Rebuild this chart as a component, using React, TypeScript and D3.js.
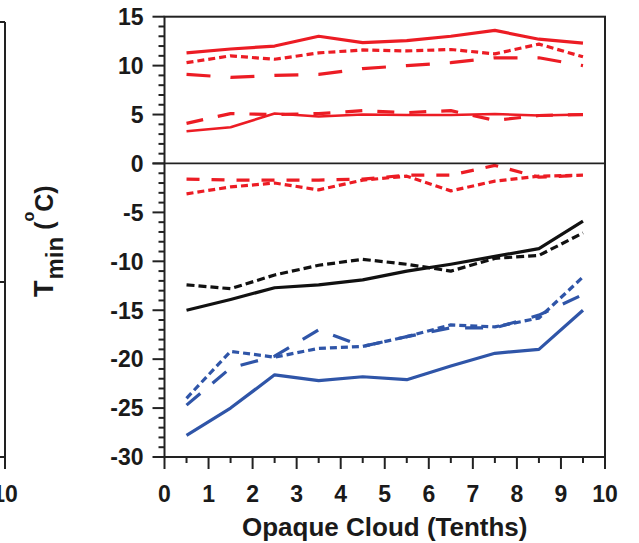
import React from "react";
import * as d3 from "d3";

const cloud = [0.5, 1.5, 2.5, 3.5, 4.5, 5.5, 6.5, 7.5, 8.5, 9.5];

const redSolidHigh = [11.3, 11.7, 12.0, 13.0, 12.35, 12.55, 13.0, 13.6, 12.7, 12.3];
const redShortHigh = [10.3, 11.0, 10.65, 11.3, 11.6, 11.5, 11.65, 11.2, 12.2, 10.9];
const redLongHigh = [9.1, 8.8, 9.0, 9.1, 9.7, 10.0, 10.3, 10.8, 10.8, 10.0];
const redDashMid = [4.1, 5.1, 5.0, 5.1, 5.4, 5.2, 5.4, 4.4, 4.9, 5.0];
const redSolidMid = [3.3, 3.7, 5.1, 4.8, 5.0, 4.95, 4.95, 5.05, 4.9, 5.0];
const redLongLow = [-1.6, -1.7, -1.7, -1.7, -1.6, -1.2, -1.2, -0.2, -1.4, -1.2];
const redShortLow = [-3.1, -2.4, -2.0, -2.7, -1.7, -1.3, -2.8, -1.8, -1.3, -1.2];
const blackSolid = [-15.0, -13.9, -12.7, -12.4, -11.9, -11.0, -10.3, -9.5, -8.7, -5.9];
const blackShort = [-12.4, -12.8, -11.4, -10.4, -9.8, -10.3, -11.0, -9.7, -9.4, -7.1];
const blueSolid = [-27.8, -25.0, -21.6, -22.2, -21.8, -22.1, -20.7, -19.4, -19.0, -15.0];
const blueShort = [-24.0, -19.2, -19.8, -18.9, -18.7, -17.7, -16.5, -16.7, -15.8, -11.6];
const blueLong = [-24.7, -20.9, -19.7, -17.0, -18.7, -17.7, -16.8, -16.8, -15.5, -13.4];

const xTickValues = [0, 1, 2, 3, 4, 5, 6, 7, 8, 9, 10];
const yTickValues = [15, 10, 5, 0, -5, -10, -15, -20, -25, -30];
const xTitle = "Opaque Cloud (Tenths)";

const RED = "#ec1c24";
const BLUE = "#2f55a8";
const BLACK = "#111111";

const series = [
  { values: redSolidHigh, color: RED, dash: null, w: 3.2 },
  { values: redShortHigh, color: RED, dash: "7 4", w: 3.2 },
  { values: redLongHigh, color: RED, dash: "24 20", w: 3.2 },
  { values: redDashMid, color: RED, dash: "17 15", w: 3.2 },
  { values: redSolidMid, color: RED, dash: null, w: 2.6 },
  { values: redLongLow, color: RED, dash: "13 12", w: 3.2 },
  { values: redShortLow, color: RED, dash: "7 4", w: 3.2 },
  { values: blackSolid, color: BLACK, dash: null, w: 3.2 },
  { values: blackShort, color: BLACK, dash: "8 4", w: 3.2 },
  { values: blueSolid, color: BLUE, dash: null, w: 3.2 },
  { values: blueShort, color: BLUE, dash: "7 4", w: 3.2 },
  { values: blueLong, color: BLUE, dash: "18 16", w: 3.2 },
];

const FONT = "'Liberation Sans', Arial, Helvetica, sans-serif";

export default function App() {
  const W = 639;
  const H = 543;
  const left = 164.5;
  const right = 605;
  const top = 16.7;
  const bottom = 457;
  const x = d3.scaleLinear().domain([0, 10]).range([left, right]);
  const y = d3.scaleLinear().domain([-30, 15]).range([bottom, top]);
  const line = d3
    .line<number>()
    .x((_, i) => x(cloud[i]))
    .y((d) => y(d));

  const minorY = d3.range(-30, 16, 1).filter((v) => v % 5 !== 0);
  const minorX = d3.range(0.5, 10, 1);

  return (
    <div style={{ position: "absolute", left: 0, top: 0 }}>
      <svg width={W} height={H} style={{ display: "block", background: "#fff" }}>
        {/* partial left panel */}
        <g stroke="#222" strokeWidth={2} fill="none">
          <line x1={0} x2={5} y1={22} y2={22} />
          <line x1={5} x2={5} y1={22} y2={bottom} />
          <line x1={0} x2={5} y1={282} y2={282} />
          <line x1={0} x2={5} y1={bottom} y2={bottom} />
          <line x1={5} x2={5} y1={bottom} y2={bottom + 12} />
        </g>
        <text x={5} y={502} fontFamily={FONT} fontWeight="bold" fontSize={23} textAnchor="middle" fill="#1a1a1a">
          10
        </text>

        {/* lines */}
        <g fill="none" strokeLinejoin="round">
          {series.map((s, i) => (
            <path
              key={i}
              d={line(s.values) || ""}
              stroke={s.color}
              strokeWidth={s.w}
              strokeDasharray={s.dash || undefined}
            />
          ))}
        </g>

        {/* frame */}
        <g stroke="#222" fill="none">
          <rect x={left} y={top} width={right - left} height={bottom - top} strokeWidth={2} />
          <line x1={left - 12} x2={right} y1={y(0)} y2={y(0)} strokeWidth={1.8} />
          {yTickValues.map((v) => (
            <line key={"ym" + v} x1={left - 12} x2={left} y1={y(v)} y2={y(v)} strokeWidth={2} />
          ))}
          {minorY.map((v) => (
            <line key={"yn" + v} x1={left - 6} x2={left} y1={y(v)} y2={y(v)} strokeWidth={2} />
          ))}
          {xTickValues.map((v) => (
            <line key={"xm" + v} x1={x(v)} x2={x(v)} y1={bottom} y2={bottom + 12} strokeWidth={2} />
          ))}
          {minorX.map((v) => (
            <line key={"xn" + v} x1={x(v)} x2={x(v)} y1={bottom} y2={bottom + 6} strokeWidth={2} />
          ))}
        </g>

        {/* tick labels */}
        <g fontFamily={FONT} fontWeight="bold" fontSize={23} fill="#1a1a1a">
          {yTickValues.map((v) => (
            <text key={"yl" + v} x={left - 21} y={y(v)} dy="0.36em" textAnchor="end">
              {v}
            </text>
          ))}
          {xTickValues.map((v) => (
            <text key={"xl" + v} x={x(v)} y={502} textAnchor="middle">
              {v}
            </text>
          ))}
        </g>

        <text
          x={(left + right) / 2}
          y={536}
          fontFamily={FONT}
          fontWeight="bold"
          fontSize={26}
          textAnchor="middle"
          fill="#1a1a1a"
        >
          {xTitle}
        </text>

        <text
          transform="translate(53,297) rotate(-90)"
          fontFamily={FONT}
          fontWeight="bold"
          fill="#1a1a1a"
        >
          <tspan fontSize={27}>T</tspan>
          <tspan fontSize={24} dy={10} dx={1}>min</tspan>
          <tspan fontSize={25} dy={-10} dx={7}>(</tspan>
          <tspan fontSize={16} dy={-19}>o</tspan>
          <tspan fontSize={25} dy={19}>C)</tspan>
        </text>
      </svg>
    </div>
  );
}
